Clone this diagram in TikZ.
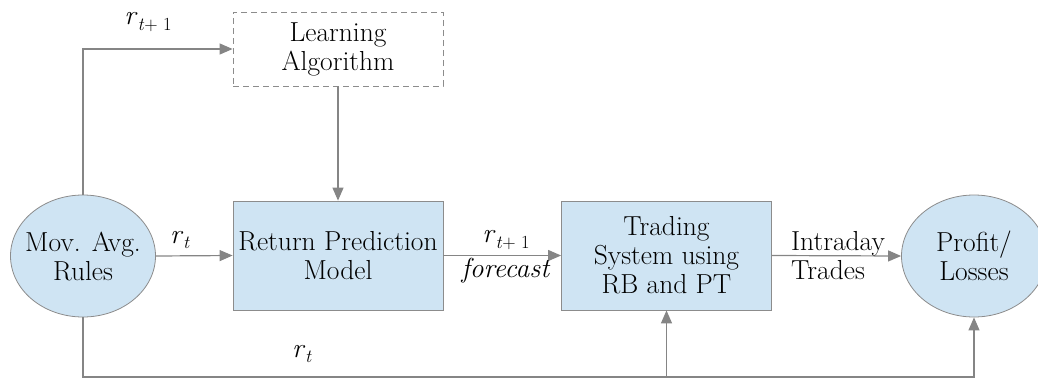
\documentclass[tikz,border=0pt]{standalone}
\usetikzlibrary{arrows.meta,shapes.geometric}
\definecolor{boxfill}{HTML}{CFE4F3}
\definecolor{boxline}{HTML}{8C8C8C}
\definecolor{arrowc}{HTML}{858585}
\newcommand{\rsym}[1]{\textit{r}\raisebox{-0.5ex}{\fontsize{18.5}{18.5}\selectfont #1}}
\begin{document}
\begin{tikzpicture}[x=1pt,y=-1pt,
  txt/.style={font=\fontsize{27.5}{29}\selectfont, align=center, text=black},
  blk/.style={txt, draw=boxline, fill=boxfill, line width=0.8pt, rectangle, minimum width=210pt, minimum height=109pt, inner sep=0pt},
  oval/.style={txt, draw=boxline, fill=boxfill, line width=0.8pt, ellipse, minimum width=145pt, minimum height=122pt, inner xsep=-25pt, inner ysep=-12pt},
  dbox/.style={txt, draw=boxline, dashed, dash pattern=on 6pt off 4pt, line width=0.8pt, rectangle, minimum width=210pt, minimum height=74pt, inner sep=0pt},
  conn/.style={draw=arrowc, line width=1.2pt, -{Triangle[length=13pt,width=11pt]}},
  plain/.style={draw=arrowc, line width=1.2pt},
  lbl/.style={font=\fontsize{27.5}{29}\selectfont, text=black, inner sep=0pt}
]
\useasboundingbox (0,0) rectangle (1038,378);
\node[oval] (mov) at (83,256) {Mov. Avg.\\Rules};
\node[blk] (ret) at (338,255.5) {Return Prediction\\Model};
\node[blk] (trd) at (666.5,255.5) {Trading\\System using\\RB and PT};
\node[oval] (pl) at (974,256) {Profit/\\Losses};
\node[dbox] (learn) at (338,49) {Learning\\Algorithm};
% connectors
\draw[conn] (mov.north) |- (learn.west);
\draw[conn] (learn.south) -- (ret.north);
\draw[conn] (mov.east) -- (ret.west);
\draw[conn] (ret.east) -- (trd.west);
\draw[conn] (trd.east) -- (pl.west);
\coordinate (bl) at (83,377);
\coordinate (bm) at (666.5,377);
\draw[plain] (mov.south) -- (bl) -- (bm);
\draw[conn] (bm) -- (trd.south);
\draw[conn] (bm) -| (pl.south);
% labels
\node[lbl] (l1) at (148,22) {\rsym{\textit{t}+ 1}};
\node[lbl] (l2) at (180,240) {\rsym{\textit{t}}};
\node[lbl] (l3) at (506,240) {\rsym{\textit{t}+ 1}};
\node[lbl] (l4) at (506,271) {\textit{forecast}};
\node[lbl, align=left, anchor=west] (l5) at (791,256) {Intraday\\Trades};
\node[lbl] (l6) at (302,354) {\rsym{\textit{t}}};
\end{tikzpicture}
\end{document}
